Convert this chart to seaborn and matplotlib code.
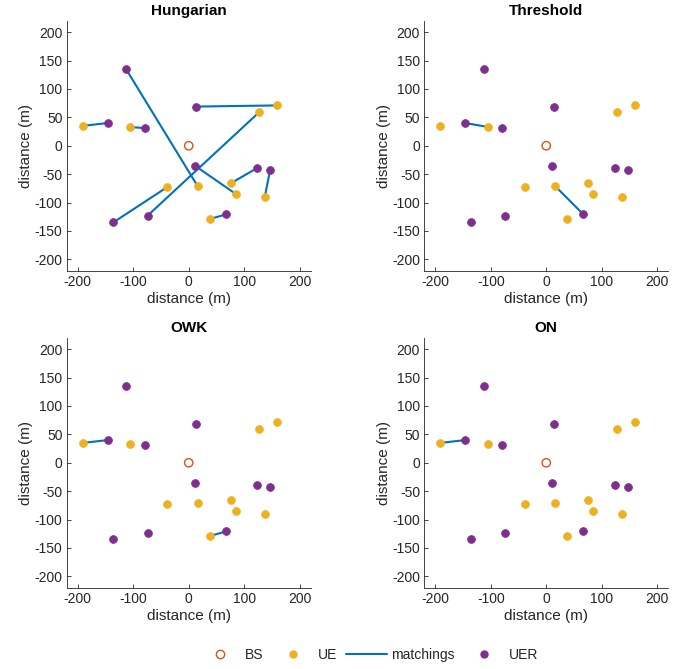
import numpy as np
import pandas as pd
import matplotlib
matplotlib.use('Agg')
import matplotlib.pyplot as plt
import seaborn as sns
from matplotlib.lines import Line2D

sns.set_theme(style='ticks')
plt.rcParams['font.family'] = ['Liberation Sans', 'DejaVu Sans']
plt.rcParams['axes.unicode_minus'] = False

# positions (m)
ue_x = [-191, -105, -39, 16, 76, 85, 38, 127, 160, 137]
ue_y = [35, 33, -73, -71, -66, -85, -129, 59, 71, -91]
uer_x = [-146, -79, -113, 14, 11, -136, -74, 67, 124, 147]
uer_y = [40, 31, 135, 69, -35, -135, -123, -121, -39, -42]
bs_x = [0]
bs_y = [0]

# matchings as (UE index, UER index)
methods = ['Hungarian', 'Threshold', 'OWK', 'ON']
matchings = {
    'Hungarian': [(0, 0), (1, 1), (3, 2), (8, 3), (7, 6), (5, 4), (2, 5), (4, 8), (9, 9), (6, 7)],
    'Threshold': [(1, 0), (3, 7)],
    'OWK': [(0, 0), (6, 7)],
    'ON': [(0, 0)],
}

c_bs = '#D95319'
c_ue = '#EDB120'
c_line = '#0072BD'
c_uer = '#7E2F8E'
txt = '#262626'

ue = pd.DataFrame({'x': ue_x, 'y': ue_y})
uer = pd.DataFrame({'x': uer_x, 'y': uer_y})
bs = pd.DataFrame({'x': bs_x, 'y': bs_y})

fig = plt.figure(figsize=(6.92, 6.69), dpi=100)
w, h = 0.3526, 0.3735
pos = {'Hungarian': [0.0964, 0.5954], 'Threshold': [0.6131, 0.5954],
       'OWK': [0.0964, 0.1215], 'ON': [0.6131, 0.1215]}

for m in methods:
    ax = fig.add_axes([pos[m][0], pos[m][1], w, h])
    rows = []
    for k, (i, j) in enumerate(matchings[m]):
        rows.append({'pair': k, 'x': ue_x[i], 'y': ue_y[i]})
        rows.append({'pair': k, 'x': uer_x[j], 'y': uer_y[j]})
    seg = pd.DataFrame(rows)
    sns.lineplot(data=seg, x='x', y='y', units='pair', estimator=None, sort=False,
                 color=c_line, lw=1.5, ax=ax, zorder=2)
    sns.scatterplot(data=bs, x='x', y='y', ax=ax, s=36, facecolor='none',
                    edgecolor=c_bs, linewidth=1.0, zorder=3)
    sns.scatterplot(data=ue, x='x', y='y', ax=ax, s=32, color=c_ue,
                    edgecolor=c_ue, linewidth=0.5, zorder=3)
    sns.scatterplot(data=uer, x='x', y='y', ax=ax, s=32, color=c_uer,
                    edgecolor=c_uer, linewidth=0.5, zorder=4)
    ax.set_xlim(-220, 220)
    ax.set_ylim(-220, 220)
    ax.set_xticks([-200, -100, 0, 100, 200])
    ax.set_yticks(np.arange(-200, 201, 50))
    ax.tick_params(direction='in', length=3, width=0.6, labelsize=10,
                   colors=txt, labelcolor=txt, pad=3)
    for s in ['top', 'right']:
        ax.spines[s].set_visible(False)
    for s in ['left', 'bottom']:
        ax.spines[s].set_color(txt)
        ax.spines[s].set_linewidth(0.6)
    ax.set_xlabel('distance (m)', fontsize=11, color=txt, labelpad=2)
    ax.set_ylabel('distance (m)', fontsize=11, color=txt, labelpad=1)
    ax.set_title(m, fontsize=11, fontweight='bold', color='black', pad=4)

handles = [
    Line2D([], [], ls='none', marker='o', ms=6, mfc='none', mec=c_bs, mew=1.0),
    Line2D([], [], ls='none', marker='o', ms=5, mfc=c_ue, mec=c_ue),
    Line2D([], [], color=c_line, lw=1.5),
    Line2D([], [], ls='none', marker='o', ms=5, mfc=c_uer, mec=c_uer),
]
fig.legend(handles, ['BS', 'UE', 'matchings', 'UER'], loc='center',
           bbox_to_anchor=(0.533, 0.021), ncol=4, frameon=False, fontsize=10,
           handlelength=3.0, handletextpad=0.3, columnspacing=0.6)

fig.savefig('out.png', dpi=100)
